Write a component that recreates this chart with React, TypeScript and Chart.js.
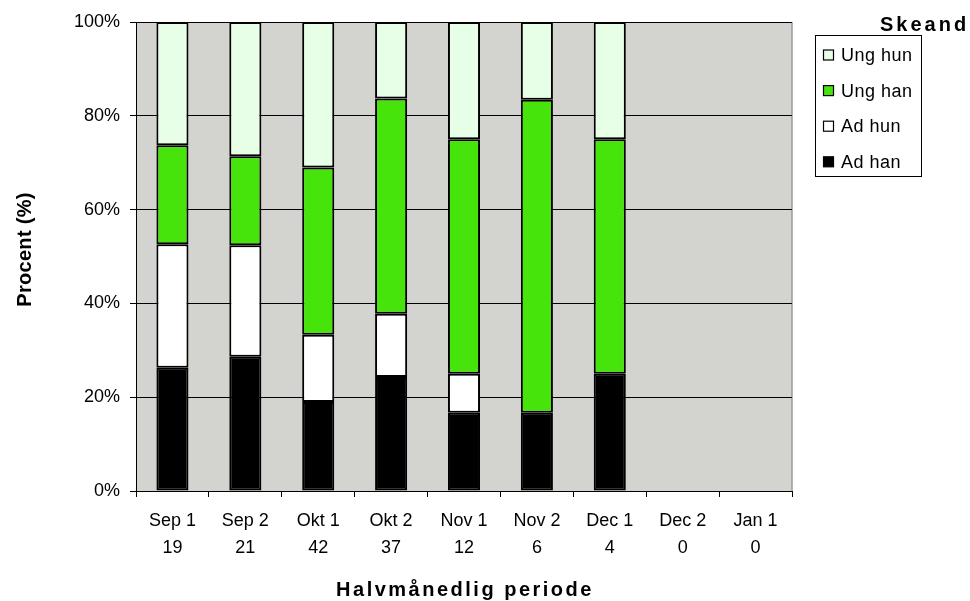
import React, { useEffect, useRef } from "react";
import { Chart, registerables } from "chart.js";

Chart.register(...registerables);

const periods = ["Sep 1", "Sep 2", "Okt 1", "Okt 2", "Nov 1", "Nov 2", "Dec 1", "Dec 2", "Jan 1"];
const counts = ["19", "21", "42", "37", "12", "6", "4", "0", "0"];
const adHan = [26.3, 28.6, 19.0, 24.3, 16.7, 16.7, 25.0, null, null];
const adHun = [26.3, 23.8, 14.3, 13.5, 8.3, 0, 0, null, null];
const ungHan = [21.1, 19.0, 35.7, 45.9, 50.0, 66.7, 50.0, null, null];
const ungHun = [26.3, 28.6, 31.0, 16.3, 25.0, 16.6, 25.0, null, null];
const yTicks = [0, 20, 40, 60, 80, 100];

const seriesNames = ["Ad han", "Ad hun", "Ung han", "Ung hun"];
const seriesColors = ["#000000", "#FFFFFF", "#46E40A", "#E6FFE6"];

const FONT = "'Liberation Sans', Arial, sans-serif";

const decorPlugin = {
  id: "decor",
  beforeDraw(chart: any) {
    const { ctx, chartArea } = chart;
    ctx.save();
    ctx.fillStyle = "#FFFFFF";
    ctx.fillRect(0, 0, chart.width, chart.height);
    ctx.fillStyle = "#D3D3CF";
    ctx.fillRect(chartArea.left, chartArea.top, chartArea.right - chartArea.left, chartArea.bottom - chartArea.top);
    ctx.strokeStyle = "#9A9A9A";
    ctx.lineWidth = 1.5;
    ctx.beginPath();
    ctx.moveTo(chartArea.right, chartArea.top);
    ctx.lineTo(chartArea.right, chartArea.bottom);
    ctx.stroke();
    ctx.restore();
  },
  afterDraw(chart: any) {
    const { ctx, chartArea } = chart;
    ctx.save();
    ctx.fillStyle = "#000";
    ctx.font = `bold 20px ${FONT}`;
    ctx.textAlign = "center";
    ctx.textBaseline = "alphabetic";
    (ctx as any).letterSpacing = "2.5px";
    ctx.fillText("Halvmånedlig periode", (chartArea.left + chartArea.right) / 2 + 1, 596);
    ctx.save();
    ctx.translate(31, (chartArea.top + chartArea.bottom) / 2 - 7);
    ctx.rotate(-Math.PI / 2);
    (ctx as any).letterSpacing = "0.3px";
    ctx.fillText("Procent (%)", 0, 0);
    ctx.restore();

    // legend
    (ctx as any).letterSpacing = "3px";
    ctx.textAlign = "left";
    ctx.fillText("Skeand", 880, 31);
    ctx.fillStyle = "#FFFFFF";
    ctx.fillRect(815.5, 35.5, 106, 141);
    ctx.strokeStyle = "#000";
    ctx.lineWidth = 1;
    ctx.strokeRect(815.5, 35.5, 106, 141);
    ctx.font = `18px ${FONT}`;
    (ctx as any).letterSpacing = "0.5px";
    ctx.textBaseline = "middle";
    const order = [3, 2, 1, 0];
    order.forEach((si, i) => {
      const cy = 55 + i * 35.6;
      ctx.fillStyle = seriesColors[si];
      ctx.fillRect(823.5, cy - 5, 10, 10);
      ctx.strokeStyle = "#000";
      ctx.lineWidth = 1.2;
      ctx.strokeRect(823.5, cy - 5, 10, 10);
      ctx.fillStyle = "#000";
      ctx.fillText(seriesNames[si], 841, cy + 1);
    });
    ctx.restore();
  },
};

export default function App() {
  const ref = useRef<HTMLCanvasElement>(null);
  useEffect(() => {
    if (!ref.current) return;
    const data = [adHan, adHun, ungHan, ungHun];
    const chart = new Chart(ref.current, {
      type: "bar",
      data: {
        labels: periods.map((p, i) => [p, counts[i]]),
        datasets: data.map((d, i) => ({
          label: seriesNames[i],
          data: d as any,
          backgroundColor: seriesColors[i],
          borderColor: "#000000",
          borderWidth: 2,
          borderSkipped: false,
          barPercentage: 0.44,
          categoryPercentage: 1,
        })),
      },
      options: {
        responsive: false,
        animation: false,
        devicePixelRatio: 1,
        layout: { padding: { left: 0, top: 22, right: 178, bottom: 0 } },
        plugins: { legend: { display: false }, tooltip: { enabled: false } },
        scales: {
          x: {
            stacked: true,
            offset: true,
            grid: { drawOnChartArea: false, drawTicks: true, tickLength: 6, color: "#000", offset: true },
            border: { color: "#000", width: 1 },
            ticks: { color: "#000", font: { family: FONT, size: 18, lineHeight: 1.5 }, padding: 11, maxRotation: 0, autoSkip: false },
            afterFit: (s: any) => { s.height = 110; },
          },
          y: {
            stacked: true,
            min: 0,
            max: 100,
            afterBuildTicks: (s: any) => { s.ticks = yTicks.map((v) => ({ value: v })); },
            grid: { color: "#000", lineWidth: 1, tickLength: 6 },
            border: { color: "#000", width: 1 },
            ticks: { color: "#000", font: { family: FONT, size: 18 }, padding: 10, callback: (v: any) => `${v}%` },
            afterFit: (s: any) => { s.width = 136; },
          },
        },
      },
      plugins: [decorPlugin],
    });
    return () => chart.destroy();
  }, []);
  return (
    <div style={{ position: "absolute", left: 0, top: 0, width: 970, height: 601 }}>
      <canvas ref={ref} width={970} height={601} style={{ width: 970, height: 601 }} />
    </div>
  );
}
